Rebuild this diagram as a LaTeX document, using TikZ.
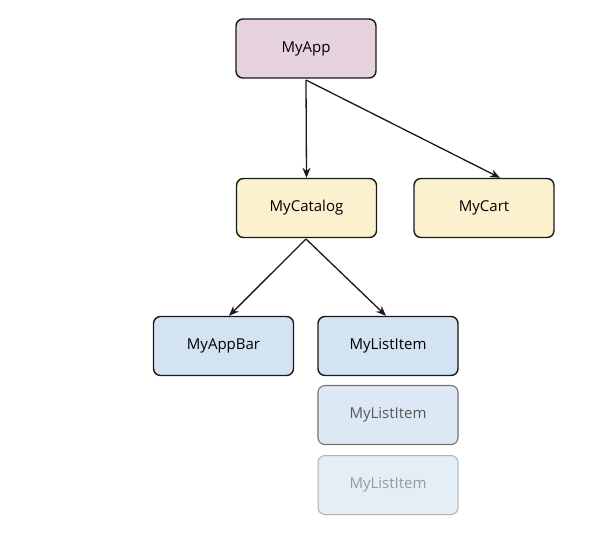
\documentclass[tikz,border=0pt]{standalone}
\usepackage{fontspec}
\setmainfont{Open Sans}
\usetikzlibrary{arrows.meta}
\definecolor{pinkf}{HTML}{E7D3DD}
\definecolor{yelf}{HTML}{FCF1CF}
\definecolor{bluef}{HTML}{D4E3F2}
\definecolor{bluef2}{HTML}{DCE8F4}
\definecolor{bluef3}{HTML}{E4EEF7}
\tikzset{
  box/.style={draw=black!90, line width=1.4pt, rounded corners=7pt, minimum width=140pt, minimum height=59pt, font=\fontsize{15}{17}\selectfont, inner sep=0pt},
  conn/.style={-{Stealth[length=10pt,width=8pt]}, line width=1.3pt, black!90}
}
\begin{document}
\begin{tikzpicture}[x=1pt,y=-1pt]
\useasboundingbox[fill=white] (0,0) rectangle (612,554);
\node[box, fill=pinkf] (app) at (306,48.5) {MyApp};
\node[box, fill=yelf] (cat) at (306.5,208) {MyCatalog};
\node[box, fill=yelf] (cart) at (484,208) {MyCart};
\node[box, fill=bluef] (bar) at (223.5,346) {MyAppBar};
\node[box, fill=bluef] (li1) at (388,346) {MyListItem};
\node[box, fill=bluef2, draw=black!55, line width=1.1pt, text=black!65] (li2) at (388,415) {MyListItem};
\node[box, fill=bluef3, draw=black!30, line width=1pt, text=black!40] (li3) at (388,485) {MyListItem};
\coordinate (s1) at (306,80);
\coordinate (s2) at (306,239);
\draw[conn] (s1) -- (cat.north);
\draw[conn] (s1) -- (cart.north -| 500,0);
\draw[conn] (s2) -- (bar.north -| 229,0);
\draw[conn] (s2) -- (li1.north -| 386,0);
\end{tikzpicture}
\end{document}
